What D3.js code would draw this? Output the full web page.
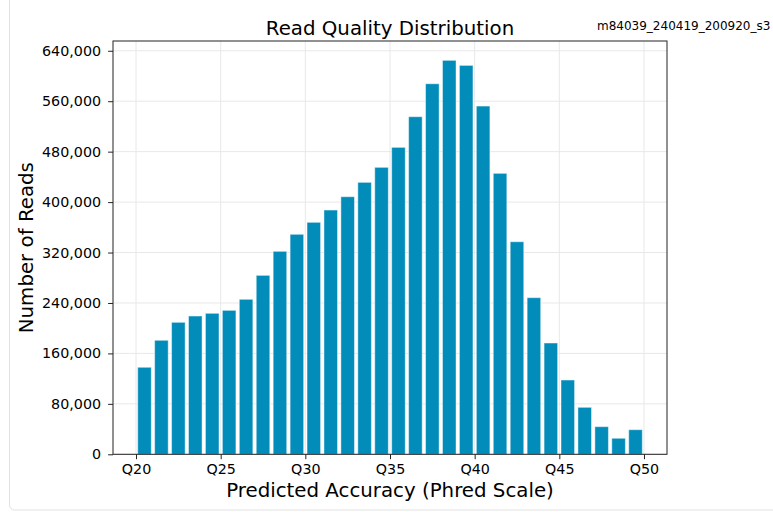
<!DOCTYPE html>
<html>
<head>
<meta charset="utf-8">
<script src="https://cdn.jsdelivr.net/npm/d3@7"></script>
<style>
  body { margin: 0; background: #fff; }
  svg text { font-family: "DejaVu Sans", sans-serif; fill: #000; }
</style>
</head>
<body>
<div id="chart"></div>
<script>
// phred quality bins (bar i covers Q[i]..Q[i]+1)
var qualities = [20, 21, 22, 23, 24, 25, 26, 27, 28, 29,
                 30, 31, 32, 33, 34, 35, 36, 37, 38, 39,
                 40, 41, 42, 43, 44, 45, 46, 47, 48, 49];
var readCounts = [138000, 180800, 209300, 219300, 223600, 228300, 245800, 283800, 321900, 348900,
                  367900, 387400, 408500, 431300, 455100, 486800, 535400, 587700, 624800, 616800,
                  552300, 445600, 337100, 248400, 176500, 117800, 74500, 43800, 25400, 39000];
var xTicks = [20, 25, 30, 35, 40, 45, 50];
var yTicks = [0, 80000, 160000, 240000, 320000, 400000, 480000, 560000, 640000];
var movieName = "m84039_240419_200920_s3";

var W = 773, H = 512;
var margin = { top: 41, right: 106, bottom: 57.7, left: 113 };
var iw = W - margin.left - margin.right,
    ih = H - margin.top - margin.bottom;

var svg = d3.select("#chart").append("svg")
    .attr("width", W)
    .attr("height", H);

// card border
svg.append("rect")
    .attr("x", 9.5).attr("y", -10)
    .attr("width", W + 20).attr("height", 520)
    .attr("rx", 5)
    .attr("fill", "none")
    .attr("stroke", "#e2e2e2");

var g = svg.append("g")
    .attr("transform", "translate(" + margin.left + "," + margin.top + ")");

var x = d3.scaleLinear().domain([18.64, 51.36]).range([0, iw]);
var y = d3.scaleLinear().domain([0, 655500]).range([ih, 0]);

// grid
g.append("g").selectAll("line.gy")
    .data(yTicks).enter().append("line")
    .attr("x1", 0).attr("x2", iw)
    .attr("y1", function(d) { return y(d); })
    .attr("y2", function(d) { return y(d); })
    .attr("stroke", "#e8e8e8").attr("stroke-width", 1);
g.append("g").selectAll("line.gx")
    .data(xTicks).enter().append("line")
    .attr("y1", 0).attr("y2", ih)
    .attr("x1", function(d) { return x(d); })
    .attr("x2", function(d) { return x(d); })
    .attr("stroke", "#e8e8e8").attr("stroke-width", 1);

// bars
g.append("g").selectAll("rect")
    .data(qualities).enter().append("rect")
    .attr("x", function(d) { return x(d + 0.1); })
    .attr("width", x(0.8) - x(0))
    .attr("y", function(d, i) { return y(readCounts[i]); })
    .attr("height", function(d, i) { return ih - y(readCounts[i]); })
    .attr("fill", "#018cba")
    .attr("stroke", "#ffffff")
    .attr("stroke-opacity", 0.45)
    .attr("stroke-width", 1);

// axes
var xAxis = g.append("g")
    .attr("transform", "translate(0," + ih + ")")
    .call(d3.axisBottom(x).tickValues(xTicks).tickSizeOuter(0).tickSize(4.9).tickPadding(4.4)
        .tickFormat(function(d) { return "Q" + d; }));
var yAxis = g.append("g")
    .call(d3.axisLeft(y).tickValues(yTicks).tickSizeOuter(0).tickSize(4.9).tickPadding(7)
        .tickFormat(d3.format(",")));
[xAxis, yAxis].forEach(function(a) {
    a.selectAll("text").style("font-size", "14.3px").attr("fill", "#000");
    a.selectAll("line").attr("stroke", "#222");
    a.select(".domain").remove();
});

// frame
g.append("rect")
    .attr("width", iw).attr("height", ih)
    .attr("fill", "none")
    .attr("stroke", "#222").attr("stroke-width", 1);

// labels
svg.append("text")
    .attr("x", margin.left + iw / 2).attr("y", 34.5)
    .attr("text-anchor", "middle")
    .style("font-size", "19.8px")
    .text("Read Quality Distribution");

svg.append("text")
    .attr("x", 597).attr("y", 30)
    .style("font-size", "12px")
    .text(movieName);

svg.append("text")
    .attr("x", margin.left + iw / 2).attr("y", 497)
    .attr("text-anchor", "middle")
    .style("font-size", "19.8px")
    .text("Predicted Accuracy (Phred Scale)");

svg.append("text")
    .attr("transform", "translate(33," + (margin.top + ih / 2) + ") rotate(-90)")
    .attr("text-anchor", "middle")
    .style("font-size", "19.8px")
    .text("Number of Reads");
</script>
</body>
</html>
